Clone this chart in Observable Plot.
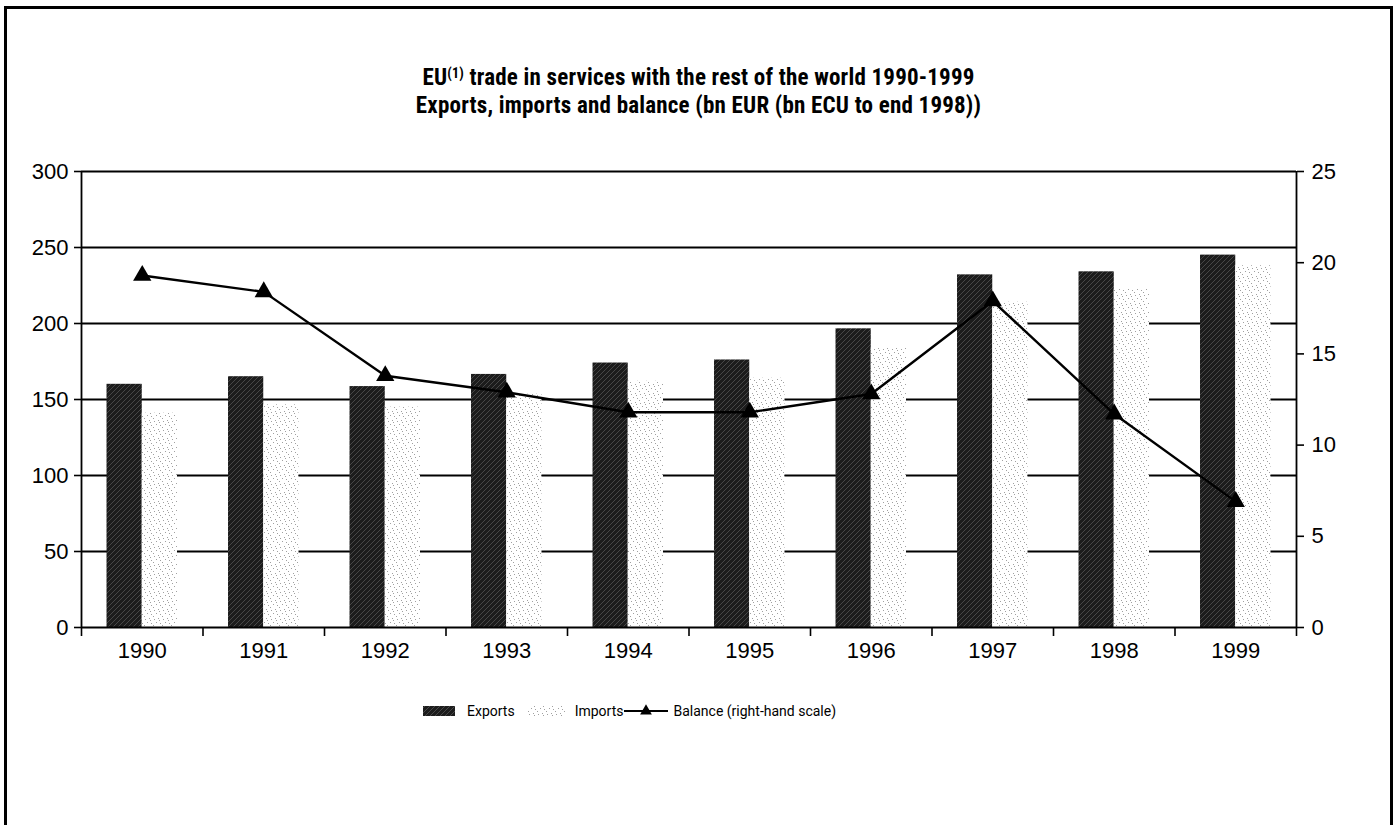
<!DOCTYPE html>
<html><head><meta charset="utf-8">
<script src="https://cdn.jsdelivr.net/npm/d3@7"></script>
<script src="https://cdn.jsdelivr.net/npm/@observablehq/plot@0.6"></script>
<style>
body{margin:0;background:#fff;width:1397px;height:825px;overflow:hidden;position:relative;font-family:"Liberation Sans",Arial,sans-serif}
#frame{position:absolute;left:4px;top:6px;width:1383px;height:900px;border:3px solid #000}
#title{position:absolute;left:0;top:64px;width:1397px;text-align:center;font-family:"Liberation Sans Narrow","Roboto Condensed",Roboto,sans-serif;font-weight:700;font-size:23px;letter-spacing:0.2px;line-height:28px;color:#000}
#title sup{font-size:14px;vertical-align:7px;line-height:0}
#chart{position:absolute;left:0;top:140px}
#legend{position:absolute;top:703px;left:423px;display:flex;align-items:center;font-family:Roboto,sans-serif;font-size:14px;color:#000;white-space:nowrap}
#legend svg{display:block}
</style>
</head><body>
<div id="frame"></div>
<div id="title">EU<sup>(1)</sup> trade in services with the rest of the world 1990-1999<br>Exports, imports and balance (bn EUR (bn ECU to end 1998))</div>
<div id="chart"></div>
<div id="legend"></div>
<script>
const years   = [1990, 1991, 1992, 1993, 1994, 1995, 1996, 1997, 1998, 1999];
const exports = [160, 165, 158.5, 166.5, 174, 176, 196.5, 232, 234, 245];
const imports = [141, 146.5, 145, 153.5, 162, 164, 184, 214, 222.5, 238];
const balance = [19.3, 18.4, 13.8, 12.9, 11.8, 11.8, 12.8, 17.9, 11.7, 6.9];
const leftTicks  = [0, 50, 100, 150, 200, 250, 300];
const rightTicks = [0, 5, 10, 15, 20, 25];
const seriesNames = ["Exports", "Imports", "Balance (right-hand scale)"];

const k = 300 / 25;          // right-hand scale factor
const barW = 0.29;           // bar width, in band units
const data = years.map((year, i) => ({year, exports: exports[i], imports: imports[i], balance: balance[i]}));
const bounds = years.map(y => y - 0.5).concat([years[years.length - 1] + 0.5]);

const chart = Plot.plot({
  width: 1397, height: 540,
  marginLeft: 81, marginRight: 101, marginTop: 31, marginBottom: 53,
  x: {type: "linear", domain: [bounds[0], bounds[bounds.length - 1]], label: null},
  y: {domain: [0, 300], label: null},
  style: {fontFamily: "'Liberation Sans', Arial, sans-serif", fontSize: "22px", color: "#000", background: "transparent", overflow: "visible"},
  marks: [
    Plot.ruleY(leftTicks.slice(1), {stroke: "#000", strokeWidth: 1.8}),
    Plot.rectY(data, {x1: d => d.year - barW, x2: d => d.year, y: "exports", fill: "url(#expPat)"}),
    Plot.rectY(data, {x1: d => d.year, x2: d => d.year + barW, y: "imports", fill: "url(#impPat)"}),
    Plot.ruleX([bounds[0], bounds[bounds.length - 1]], {stroke: "#000", strokeWidth: 1.8}),
    Plot.ruleY([0], {stroke: "#000", strokeWidth: 1.8}),
    Plot.line(data, {x: "year", y: d => d.balance * k, stroke: "#000", strokeWidth: 2.4}),
    Plot.dot(data, {x: "year", y: d => d.balance * k, symbol: "triangle", r: 6.8, fill: "#000", stroke: "none"}),
    Plot.axisX({ticks: years, tickSize: 0, tickPadding: 15, tickFormat: d => String(d), fontSize: 22}),
    Plot.axisX({ticks: bounds, tickSize: 9, tickFormat: () => "", strokeWidth: 1.6}),
    Plot.axisY({ticks: leftTicks, tickSize: 7, tickPadding: 6, tickFormat: d => String(d), fontSize: 22, strokeWidth: 1.6}),
    Plot.axisY({anchor: "right", ticks: rightTicks.map(v => v * k), tickSize: 7, tickPadding: 8, tickFormat: d => String(d / k), fontSize: 22, strokeWidth: 1.6})
  ]
});

// texture patterns for the bars
const defs = d3.select(chart).insert("defs", ":first-child");
const ep = defs.append("pattern").attr("id", "expPat").attr("patternUnits", "userSpaceOnUse").attr("width", 5).attr("height", 5);
ep.append("rect").attr("width", 5).attr("height", 5).attr("fill", "#1c1c1c");
ep.append("path").attr("d", "M0,5L5,0").attr("stroke", "#5a5a5a").attr("stroke-width", 0.7);
const ip = defs.append("pattern").attr("id", "impPat").attr("patternUnits", "userSpaceOnUse").attr("width", 9).attr("height", 9);
ip.append("rect").attr("width", 9).attr("height", 9).attr("fill", "#ffffff");
[[1,2],[5,1],[3,5],[7,6],[0,8],[6,3]].forEach(([cx, cy]) => ip.append("rect").attr("x", cx).attr("y", cy).attr("width", 1).attr("height", 1).attr("fill", "#a0a0a0"));
document.getElementById("chart").appendChild(chart);

// legend
const legend = d3.select("#legend");
const sw = (w, fn) => { const s = legend.append("svg").attr("width", w).attr("height", 16); fn(s); };
sw(32, s => s.append("rect").attr("y", 3).attr("width", 32).attr("height", 10).attr("fill", "url(#expPat)"));
legend.append("span").style("margin-left", "12px").style("margin-right", "13px").text(seriesNames[0]);
sw(37, s => s.append("rect").attr("y", 3).attr("width", 37).attr("height", 10).attr("fill", "url(#impPat)"));
legend.append("span").style("margin-left", "10px").text(seriesNames[1]);
sw(46, s => { s.append("line").attr("x1", 1).attr("x2", 45).attr("y1", 8).attr("y2", 8).attr("stroke", "#000").attr("stroke-width", 2.2);
  s.append("path").attr("d", d3.symbol(d3.symbolTriangle, 60)()).attr("transform", "translate(23,8)").attr("fill", "#000"); });
legend.append("span").style("margin-left", "4px").text(seriesNames[2]);
</script>
</body></html>
